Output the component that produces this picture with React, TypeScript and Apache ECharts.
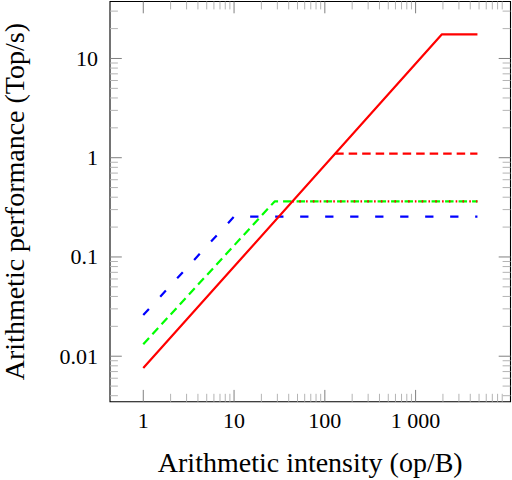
import React, { useEffect, useRef } from "react";
import * as echarts from "echarts";

// Axis ticks / labels
const xTickValues = [1, 10, 100, 1000];
const xTickLabels = ["1", "10", "100", "1 000"];
const yTickValues = [0.01, 0.1, 1, 10];
const yTickLabels = ["0.01", "0.1", "1", "10"];
const xMinorTicks = [
  2, 3, 4, 5, 6, 7, 8, 9,
  20, 30, 40, 50, 60, 70, 80, 90,
  200, 300, 400, 500, 600, 700, 800, 900,
  2000, 3000, 4000, 5000, 6000, 7000, 8000, 9000,
];
const yMinorTicks = [
  0.004, 0.005, 0.006, 0.007, 0.008, 0.009,
  0.02, 0.03, 0.04, 0.05, 0.06, 0.07, 0.08, 0.09,
  0.2, 0.3, 0.4, 0.5, 0.6, 0.7, 0.8, 0.9,
  2, 3, 4, 5, 6, 7, 8, 9,
  20, 30,
];
const xRange = [0.43, 11100];
const yRange = [0.00348, 37.5];

// Series (x: op/B, y: Top/s)
const redRoof = [[1, 0.0076], [1950, 17.5], [4800, 17.5]];
const redDashed = [[130, 1.1], [4800, 1.1]];
const redDotted = [[44, 0.363], [4800, 0.363]];
const greenRoof = [[1, 0.0132], [28, 0.363], [4800, 0.363]];
const blueRoof = [[1, 0.026], [10, 0.255], [4800, 0.255]];

const FONT = "'Liberation Serif', 'Times New Roman', serif";

function labelFor(vals: number[], labels: string[]) {
  return (v: number) => {
    for (let i = 0; i < vals.length; i++) {
      if (Math.abs(Math.log10(v) - Math.log10(vals[i])) < 1e-6) return labels[i];
    }
    return "";
  };
}

function tickSeries(values: number[], axis: "x" | "y", len: number, color: string) {
  return {
    type: "custom",
    coordinateSystem: "cartesian2d",
    silent: true,
    clip: false,
    z: 1,
    data: values.map((v) => (axis === "x" ? [v, 1] : [1, v])),
    renderItem: (params: any, api: any) => {
      const cs = params.coordSys;
      const p = api.coord([api.value(0), api.value(1)]);
      const style = { stroke: color, lineWidth: 1 };
      if (axis === "x") {
        const x = p[0];
        return {
          type: "group",
          children: [
            { type: "line", shape: { x1: x, y1: cs.y + cs.height, x2: x, y2: cs.y + cs.height - len }, style },
            { type: "line", shape: { x1: x, y1: cs.y, x2: x, y2: cs.y + len }, style },
          ],
        };
      }
      const y = p[1];
      return {
        type: "group",
        children: [
          { type: "line", shape: { x1: cs.x, y1: y, x2: cs.x + len, y2: y }, style },
          { type: "line", shape: { x1: cs.x + cs.width, y1: y, x2: cs.x + cs.width - len, y2: y }, style },
        ],
      };
    },
  };
}

function lineSeries(data: number[][], color: string, type: any, z: number) {
  return {
    type: "line",
    data,
    symbol: "none",
    showSymbol: false,
    silent: true,
    z,
    lineStyle: { color, width: 2.2, type, cap: "butt" },
    emphasis: { disabled: true },
  };
}

export default function App() {
  const ref = useRef<HTMLDivElement>(null);
  useEffect(() => {
    document.body.style.margin = "0";
    if (!ref.current) return;
    const chart = echarts.init(ref.current, undefined, { renderer: "svg" });
    chart.setOption({
      animation: false,
      grid: {
        left: 110,
        top: 1.5,
        width: 400.5,
        height: 400.2,
        containLabel: false,
        outerBoundsMode: "none",
        show: true,
        borderColor: "#000",
        borderWidth: 1.1,
        backgroundColor: "transparent",
      },
      xAxis: {
        type: "log",
        logBase: 10,
        min: xRange[0],
        max: xRange[1],
        axisLine: { show: false },
        axisTick: { show: false },
        splitLine: { show: false },
        axisLabel: {
          formatter: labelFor(xTickValues, xTickLabels),
          margin: 8,
          fontSize: 22,
          fontFamily: FONT,
          color: "#000",
        },
        name: "Arithmetic intensity (op/B)",
        nameLocation: "middle",
        nameGap: 47,
        nameTextStyle: { fontSize: 28, fontFamily: FONT, color: "#000" },
      },
      yAxis: {
        type: "log",
        logBase: 10,
        min: yRange[0],
        max: yRange[1],
        axisLine: { show: false },
        axisTick: { show: false },
        splitLine: { show: false },
        axisLabel: {
          formatter: labelFor(yTickValues, yTickLabels),
          margin: 12,
          fontSize: 22,
          fontFamily: FONT,
          color: "#000",
        },
        name: "Arithmetic performance (Top/s)",
        nameLocation: "middle",
        nameGap: 82,
        nameTextStyle: { fontSize: 28, fontFamily: FONT, color: "#000" },
      },
      series: [
        tickSeries(xMinorTicks, "x", 7.9, "#b4b4b4"),
        tickSeries(yMinorTicks, "y", 7.9, "#b4b4b4"),
        tickSeries(xTickValues, "x", 11.8, "#808080"),
        tickSeries(yTickValues, "y", 11.8, "#808080"),
        lineSeries(blueRoof, "#0000ff", [8.3, 16.7], 3),
        lineSeries(greenRoof, "#00ff00", [8.5, 5], 4),
        lineSeries(redDashed, "#ff0000", [8.5, 5], 5),
        lineSeries(redDotted, "#ff0000", [1.6, 5.2], 6),
        lineSeries(redRoof, "#ff0000", "solid", 7),
      ],
    });
    return () => chart.dispose();
  }, []);
  return <div ref={ref} style={{ width: 512, height: 480 }} />;
}
